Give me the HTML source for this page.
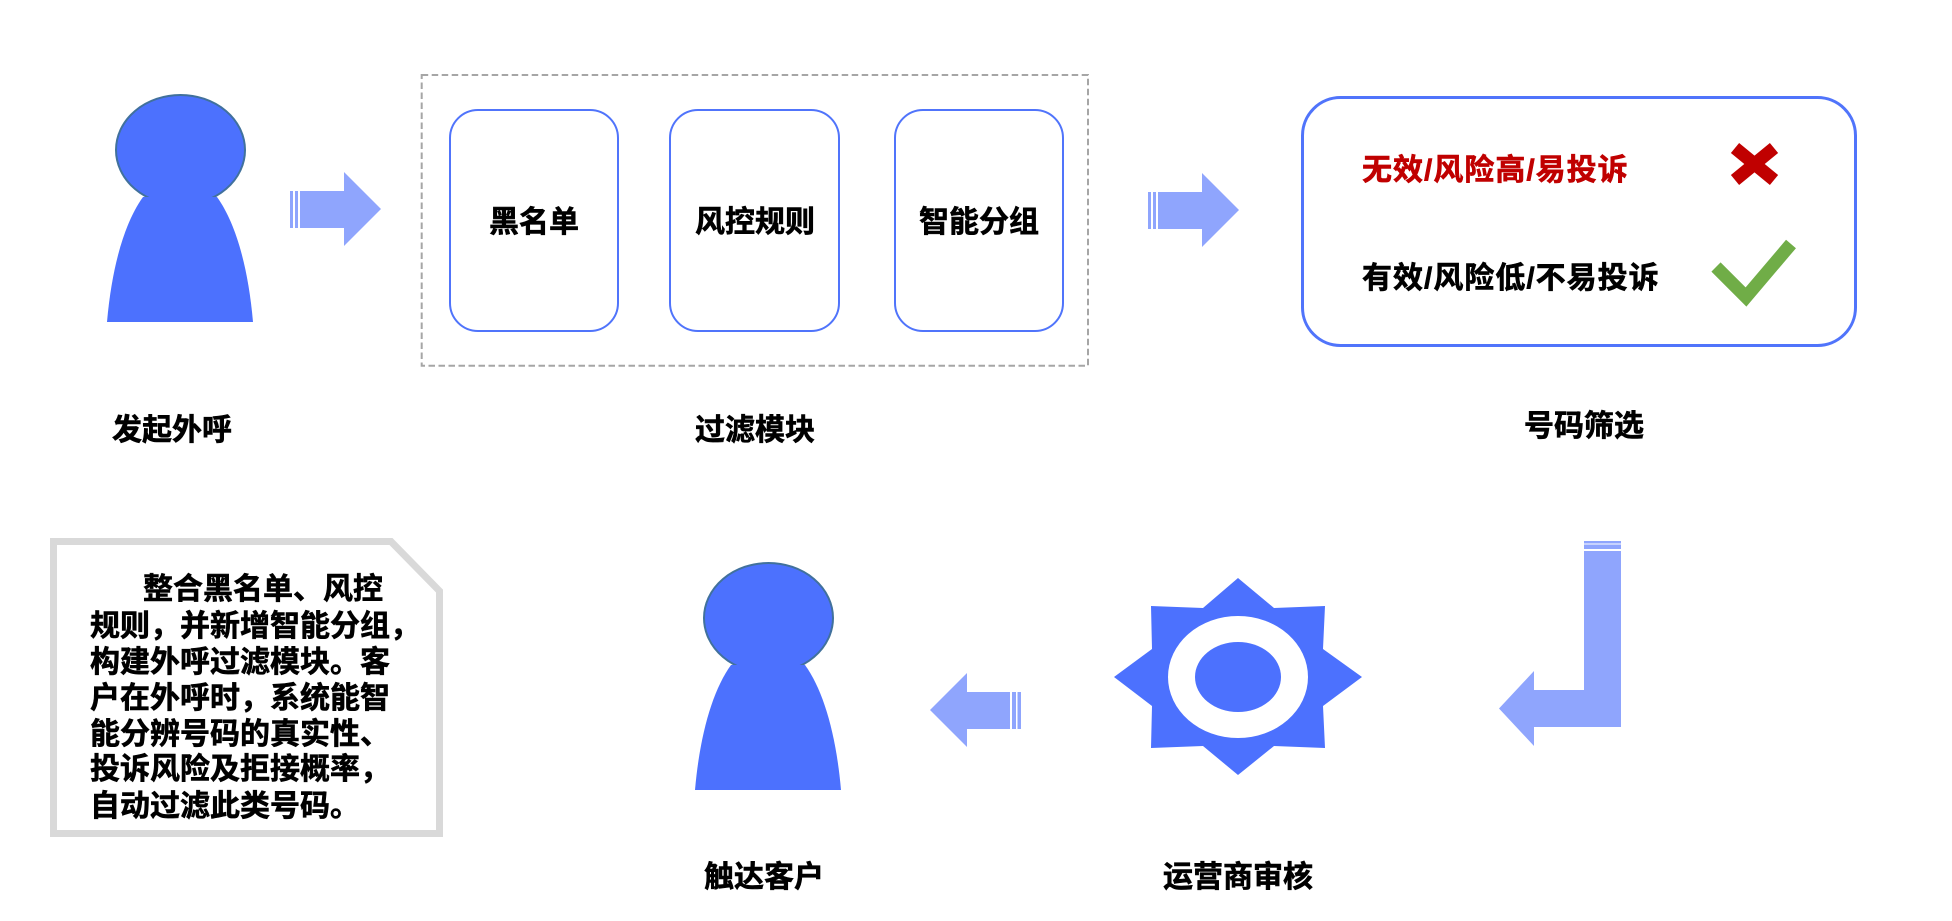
<!DOCTYPE html>
<html>
<head>
<meta charset="utf-8">
<style>
html,body{margin:0;padding:0;background:#fff;}
body{width:1952px;height:921px;overflow:hidden;}
svg{display:block;}
text{font-family:"Liberation Sans","Noto Sans CJK SC",sans-serif;font-weight:bold;font-size:30px;fill:#000;stroke:#000;stroke-width:0.6px;}
text.red{fill:#c00000;stroke:#c00000;}
</style>
</head>
<body>
<svg width="1952" height="921" viewBox="0 0 1952 921" xmlns="http://www.w3.org/2000/svg">
  <rect x="0" y="0" width="1952" height="921" fill="#fff"/>

  <!-- Person 1 -->
  <g id="p1">
    <ellipse cx="180.5" cy="150" rx="64.5" ry="55" fill="#4c71fe" stroke="#41719c" stroke-width="2"/>
    <path d="M143,197 C125,222 112,265 107,322 L253,322 C248,265 235,222 217,197 Z" fill="#4c71fe"/>
  </g>
  <!-- Person 2 -->
  <g transform="translate(588,468)">
    <ellipse cx="180.5" cy="150" rx="64.5" ry="55" fill="#4c71fe" stroke="#41719c" stroke-width="2"/>
    <path d="M143,197 C125,222 112,265 107,322 L253,322 C248,265 235,222 217,197 Z" fill="#4c71fe"/>
  </g>

  <!-- Arrow 1 -->
  <g fill="#8fa5fd">
    <rect x="290" y="191" width="3" height="37"/>
    <rect x="295" y="191" width="3" height="37"/>
    <polygon points="300,191 344,191 344,172 381,209 344,246 344,228 300,228"/>
  </g>
  <!-- Arrow 2 -->
  <g fill="#8fa5fd" transform="translate(858,1)">
    <rect x="290" y="191" width="3" height="37"/>
    <rect x="295" y="191" width="3" height="37"/>
    <polygon points="300,191 344,191 344,172 381,209 344,246 344,228 300,228"/>
  </g>
  <!-- Left arrow -->
  <g fill="#8fa5fd">
    <polygon points="1010,692 967,692 967,673 930,710 967,747 967,729 1010,729"/>
    <rect x="1012" y="692" width="4" height="37"/>
    <rect x="1017.5" y="692" width="3.5" height="37"/>
  </g>
  <!-- L arrow -->
  <g fill="#8fa5fd">
    <rect x="1584" y="541" width="37" height="2.5"/>
    <rect x="1584" y="544.5" width="37" height="4.5"/>
    <polygon points="1584,551 1621,551 1621,727 1534,727 1534,746 1499,708.5 1534,671 1534,690 1584,690"/>
  </g>

  <!-- Dashed filter box -->
  <rect x="421.7" y="75" width="666.3" height="290.7" fill="none" stroke="#a6a6a6" stroke-width="2" stroke-dasharray="6.5,3.5"/>
  <!-- Inner boxes -->
  <rect x="450" y="110" width="168" height="221" rx="28" ry="28" fill="#fff" stroke="#5074fb" stroke-width="2"/>
  <rect x="670" y="110" width="169" height="221" rx="28" ry="28" fill="#fff" stroke="#5074fb" stroke-width="2"/>
  <rect x="895" y="110" width="168" height="221" rx="28" ry="28" fill="#fff" stroke="#5074fb" stroke-width="2"/>
  <text x="534" y="232" text-anchor="middle">黑名单</text>
  <text x="755" y="232" text-anchor="middle">风控规则</text>
  <text x="979" y="232" text-anchor="middle">智能分组</text>

  <!-- Screening box -->
  <rect x="1302.5" y="97.5" width="553" height="248" rx="38" ry="38" fill="#fff" stroke="#5074fb" stroke-width="3"/>
  <text class="red" x="1362" y="180" style="letter-spacing:1px">无效/风险高/易投诉</text>
  <text x="1362" y="288" style="letter-spacing:1px">有效/风险低/不易投诉</text>
  <!-- X mark -->
  <g stroke="#c00000" stroke-width="13" stroke-linecap="butt">
    <line x1="1735" y1="148" x2="1774" y2="180"/>
    <line x1="1774" y1="148" x2="1735" y2="180"/>
  </g>
  <!-- Check mark -->
  <polyline points="1716,267 1746,297 1791,244" fill="none" stroke="#70ad47" stroke-width="13" stroke-linejoin="miter" stroke-linecap="butt"/>

  <!-- Labels -->
  <text x="172" y="440" text-anchor="middle">发起外呼</text>
  <text x="755" y="440" text-anchor="middle">过滤模块</text>
  <text x="1584" y="436" text-anchor="middle">号码筛选</text>
  <text x="764" y="887" text-anchor="middle">触达客户</text>
  <text x="1238" y="887" text-anchor="middle">运营商审核</text>

  <!-- Sun -->
  <polygon fill="#4c71fe" points="1238,578 1274,608 1325,606 1323,649 1362,677 1323,706 1325,748 1274,746 1238,775 1203,746 1151,748 1152,706 1114,677 1152,649 1151,606 1203,608"/>
  <ellipse cx="1238" cy="677" rx="70" ry="61" fill="#fff"/>
  <ellipse cx="1238" cy="677" rx="43" ry="35" fill="#4c71fe"/>

  <!-- Note box -->
  <polygon points="53.5,541.5 391,541.5 439.5,591 439.5,833.5 53.5,833.5" fill="#fff" stroke="#d9d9d9" stroke-width="7" stroke-linejoin="miter"/>
  <text x="143" y="599">整合黑名单、风控</text>
  <text x="90" y="636">规则，并新增智能分组，</text>
  <text x="90" y="672">构建外呼过滤模块。客</text>
  <text x="90" y="708">户在外呼时，系统能智</text>
  <text x="90" y="744">能分辨号码的真实性、</text>
  <text x="90" y="779">投诉风险及拒接概率，</text>
  <text x="90" y="816">自动过滤此类号码。</text>
</svg>
</body>
</html>
